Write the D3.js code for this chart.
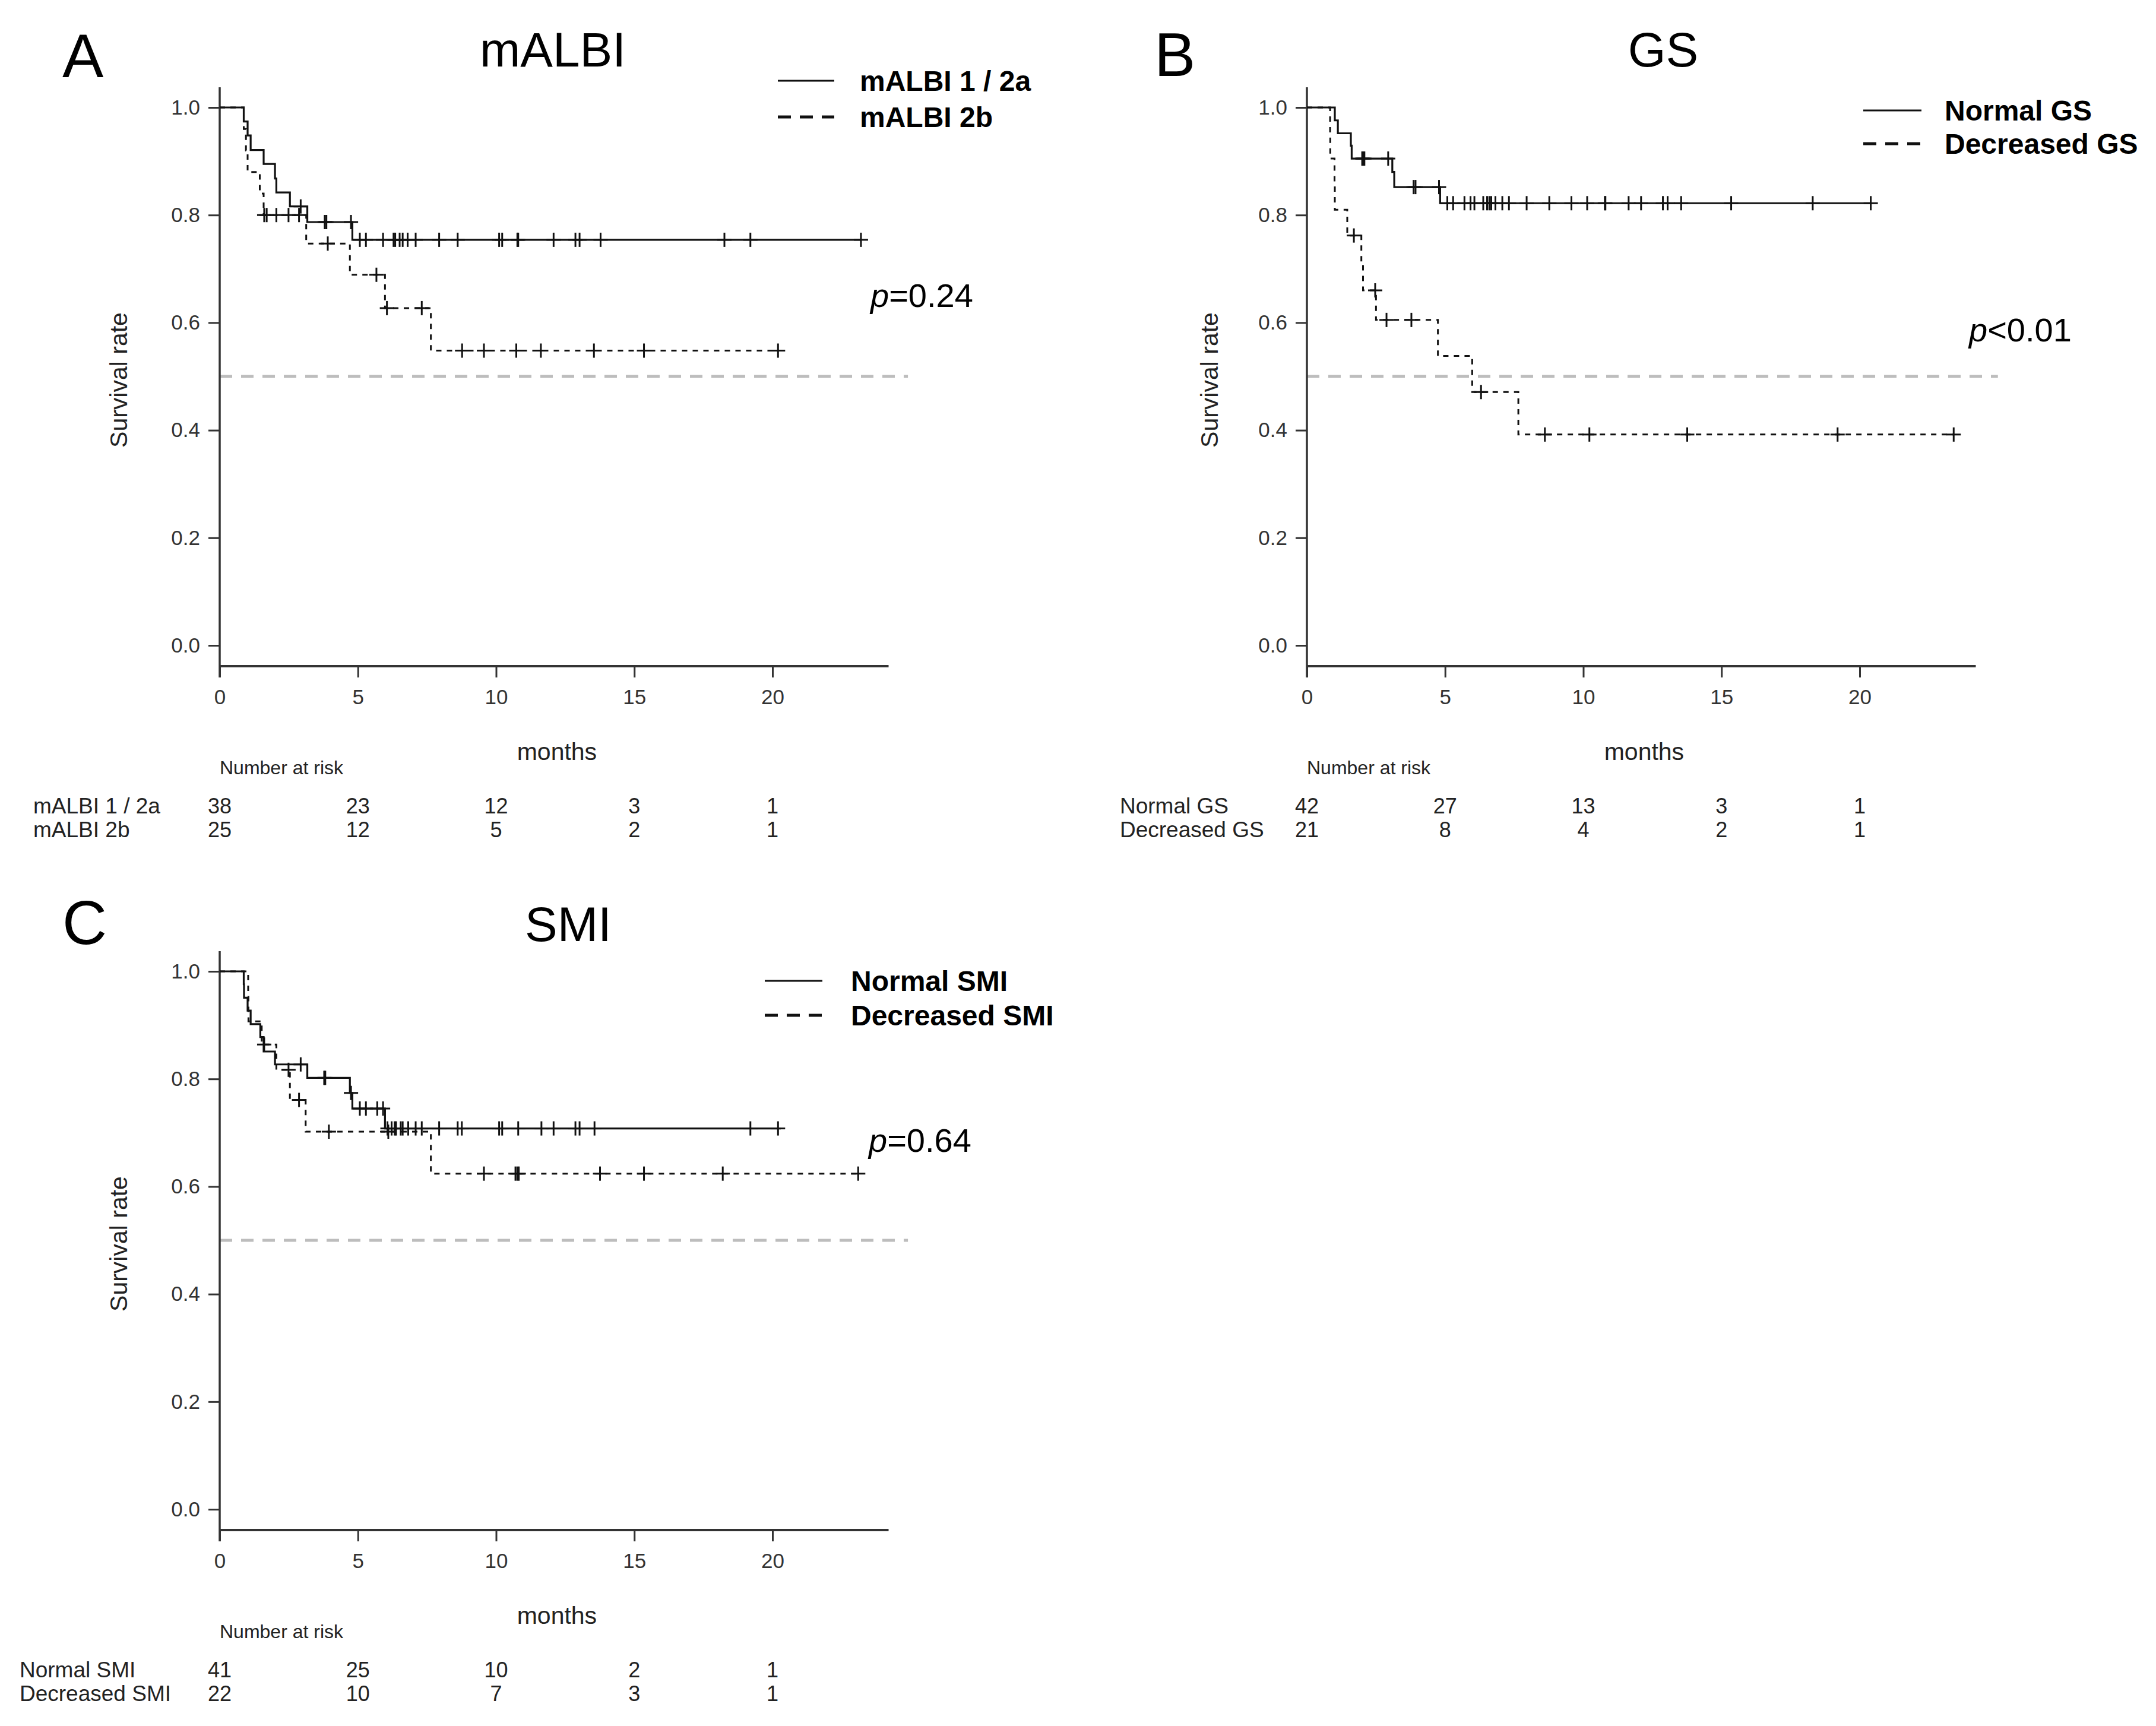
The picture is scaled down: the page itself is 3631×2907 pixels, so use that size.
<!DOCTYPE html>
<html><head><meta charset="utf-8">
<script src="https://cdn.jsdelivr.net/npm/d3@7"></script>
<style>body{margin:0;background:#fff}</style>
</head><body>
<svg id="chart" width="3631" height="2907"></svg>
<script>
// ---------- shared ticks ----------
const xTicks = [0, 5, 10, 15, 20];
const yTicks = [0.0, 0.2, 0.4, 0.6, 0.8, 1.0];
const riskTimes = [0, 5, 10, 15, 20];

// ---------- Panel A : mALBI ----------
const albiA_times = [0, 0.87, 1.01, 1.12, 1.59, 2.00, 2.05, 2.54, 3.17, 4.80];
const albiA_surv  = [1, 0.974, 0.948, 0.921, 0.895, 0.868, 0.842, 0.816, 0.787, 0.754];
const albiA_end   = 23.2;
const albiA_cens  = [2.93, 3.80, 3.86, 4.75, 5.07, 5.29, 5.91, 6.29, 6.35, 6.51, 6.62, 6.80, 7.09, 7.94, 8.61,
                     10.11, 10.22, 10.77, 10.80, 12.08, 12.87, 13.02, 13.78, 18.26, 19.2, 23.2];
const albiB_times = [0, 0.87, 0.95, 1.01, 1.45, 1.59, 3.13, 4.71, 5.98, 7.64];
const albiB_surv  = [1, 0.96, 0.92, 0.88, 0.84, 0.80, 0.747, 0.689, 0.627, 0.548];
const albiB_end   = 20.2;
const albiB_cens  = [1.61, 1.70, 2.05, 2.49, 2.87, 3.91, 5.67, 6.05, 7.31, 8.77, 9.56, 10.73, 11.62, 13.54, 15.35, 20.2];
const albiRiskA = [38, 23, 12, 3, 1];
const albiRiskB = [25, 12, 5, 2, 1];

// ---------- Panel B : GS ----------
const gsN_times = [0, 1.01, 1.12, 1.59, 1.62, 3.09, 3.16, 4.82];
const gsN_surv  = [1, 0.976, 0.952, 0.929, 0.905, 0.880, 0.852, 0.822];
const gsN_end   = 20.4;
const gsN_cens  = [2.00, 2.04, 2.08, 2.94, 3.86, 3.93, 4.78, 5.08, 5.29, 5.70, 5.92, 6.06, 6.38, 6.52, 6.60, 6.67, 6.82,
                   7.07, 7.31, 7.95, 8.77, 9.57, 10.14, 10.78, 10.80, 11.64, 12.09, 12.88, 13.05, 13.54, 15.35, 18.3, 20.4];
const gsD_times = [0, 0.84, 0.845, 1.00, 1.01, 1.46, 1.97, 2.03, 2.50, 4.74, 5.98, 7.65];
const gsD_surv  = [1, 0.952, 0.905, 0.857, 0.810, 0.762, 0.711, 0.660, 0.605, 0.538, 0.471, 0.392];
const gsD_end   = 23.4;
const gsD_cens  = [1.70, 2.47, 2.88, 3.78, 6.30, 8.61, 10.22, 13.76, 19.2, 23.4];
const gsRiskN = [42, 27, 13, 3, 1];
const gsRiskD = [21, 8, 4, 2, 1];

// ---------- Panel C : SMI ----------
const smiN_times = [0, 0.87, 0.88, 1.01, 1.12, 1.47, 1.59, 2.00, 3.17, 4.71, 4.80, 5.98];
const smiN_surv  = [1, 0.976, 0.951, 0.927, 0.902, 0.878, 0.851, 0.827, 0.802, 0.774, 0.745, 0.708];
const smiN_end   = 20.3;
const smiN_cens  = [2.93, 3.78, 3.82, 4.75, 5.07, 5.29, 5.70, 5.91, 6.07, 6.22, 6.33, 6.38, 6.55, 6.62, 6.82, 7.09,
                    7.31, 7.94, 8.61, 8.76, 10.11, 10.22, 10.80, 11.64, 12.08, 12.87, 13.02, 13.56, 19.2, 20.2];
const smiD_times = [0, 1.03, 1.04, 1.52, 2.05, 2.54, 3.11, 7.64];
const smiD_surv  = [1, 0.955, 0.907, 0.864, 0.817, 0.761, 0.702, 0.624];
const smiD_end   = 23.1;
const smiD_cens  = [1.61, 2.49, 2.87, 3.95, 6.10, 9.56, 10.70, 10.77, 10.82, 13.76, 15.35, 18.2, 23.1];
const smiRiskN = [41, 25, 10, 2, 1];
const smiRiskD = [22, 10, 7, 3, 1];

// ---------- labels ----------
const panelLetters = ["A", "B", "C"];
const panelTitles  = ["mALBI", "GS", "SMI"];
const groupLabels  = [["mALBI 1 / 2a", "mALBI 2b"], ["Normal GS", "Decreased GS"], ["Normal SMI", "Decreased SMI"]];
const riskLabels   = [["mALBI 1 / 2a", "mALBI 2b"], ["Normal GS", "Decreased GS"], ["Normal SMI", "Decreased SMI"]];
const pSign   = ["=", "<", "="];
const pValues = ["0.24", "0.01", "0.64"];

// ---------- assemble panels ----------
const panelData = [
  { solid: {t: albiA_times, s: albiA_surv, end: albiA_end, c: albiA_cens},
    dash:  {t: albiB_times, s: albiB_surv, end: albiB_end, c: albiB_cens},
    risk: [albiRiskA, albiRiskB] },
  { solid: {t: gsN_times, s: gsN_surv, end: gsN_end, c: gsN_cens},
    dash:  {t: gsD_times, s: gsD_surv, end: gsD_end, c: gsD_cens},
    risk: [gsRiskN, gsRiskD] },
  { solid: {t: smiN_times, s: smiN_surv, end: smiN_end, c: smiN_cens},
    dash:  {t: smiD_times, s: smiD_surv, end: smiD_end, c: smiD_cens},
    risk: [smiRiskN, smiRiskD] }
];

// layout (pixels) — styling only
const layout = [
  {x0: 370,  y1: 181,  y0: 1087, axisY: 1122, letterX: 105,  letterY: 130,  titleX: 931,  titleY: 112,
   legLine: [1310, 1405], legText: 1448, legY: [136, 197], pX: 1466, pY: 517, riskLabX: 56,  ylabX: 203, refEnd: 24.9},
  {x0: 2201, y1: 181,  y0: 1087, axisY: 1122, letterX: 1944, letterY: 128,  titleX: 2801, titleY: 112,
   legLine: [3138, 3236], legText: 3275, legY: [186, 242], pX: 3316, pY: 575, riskLabX: 1886, ylabX: 2040, refEnd: 25.0},
  {x0: 370,  y1: 1636, y0: 2542, axisY: 2577, letterX: 105,  letterY: 1590, titleX: 957,  titleY: 1585,
   legLine: [1288, 1385], legText: 1433, legY: [1652, 1710], pX: 1463, pY: 1940, riskLabX: 33,  ylabX: 203, refEnd: 24.9}
];

const FONT = "'Liberation Sans', Arial, Helvetica, sans-serif";
const svg = d3.select("#chart");
svg.append("rect").attr("width", 3631).attr("height", 2907).attr("fill", "#fff");

function survAt(series, t) {
  let v = series.s[0];
  for (let i = 0; i < series.t.length; i++) { if (series.t[i] <= t) v = series.s[i]; }
  return v;
}

panelData.forEach((pd, i) => {
  const L = layout[i];
  const x = d3.scaleLinear().domain([0, 20]).range([L.x0, L.x0 + 20 * 46.55]);
  const y = d3.scaleLinear().domain([0, 1]).range([L.y0, L.y1]);
  const g = svg.append("g");

  // letter & title
  g.append("text").attr("x", L.letterX).attr("y", L.letterY).text(panelLetters[i])
    .attr("font-family", FONT).attr("font-size", 104).attr("fill", "#000");
  g.append("text").attr("x", L.titleX).attr("y", L.titleY).text(panelTitles[i])
    .attr("text-anchor", "middle").attr("font-family", FONT).attr("font-size", 82).attr("fill", "#000");

  // reference 0.5 line
  g.append("line").attr("x1", x(0)).attr("x2", x(L.refEnd)).attr("y1", y(0.5)).attr("y2", y(0.5))
    .attr("stroke", "#bdbdbd").attr("stroke-width", 5).attr("stroke-dasharray", "21,15");

  // axes
  const yAxis = d3.axisLeft(y).tickValues(yTicks).tickFormat(d3.format(".1f")).tickSize(19).tickPadding(14);
  const ya = g.append("g").attr("transform", `translate(${L.x0},0)`).call(yAxis);
  const xAxis = d3.axisBottom(x).tickValues(xTicks).tickSize(19).tickPadding(20);
  const xa = g.append("g").attr("transform", `translate(0,${L.axisY})`).call(xAxis);
  [ya, xa].forEach(a => {
    a.select(".domain").remove();
    a.selectAll(".tick line").attr("stroke", "#333").attr("stroke-width", 3);
    a.selectAll(".tick text").attr("font-family", FONT).attr("font-size", 35).attr("fill", "#333");
  });
  g.append("line").attr("x1", L.x0).attr("x2", L.x0).attr("y1", L.y1 - 34).attr("y2", L.axisY + 19)
    .attr("stroke", "#333").attr("stroke-width", 3.5);
  g.append("line").attr("x1", L.x0).attr("x2", x(24.2)).attr("y1", L.axisY).attr("y2", L.axisY)
    .attr("stroke", "#333").attr("stroke-width", 4);

  // axis titles
  g.append("text").attr("transform", `translate(${L.ylabX},${(L.y0 + L.y1) / 2 + 6}) rotate(-90)`)
    .attr("text-anchor", "middle").attr("dominant-baseline", "middle").text("Survival  rate")
    .attr("font-family", FONT).attr("font-size", 41).attr("fill", "#222");
  g.append("text").attr("x", x(12.2)).attr("y", L.axisY + 158).attr("text-anchor", "middle").text("months")
    .attr("font-family", FONT).attr("font-size", 41).attr("fill", "#222");

  // curves
  const line = d3.line().x(d => x(d[0])).y(d => y(d[1])).curve(d3.curveStepAfter);
  [["solid", null], ["dash", "9,9"]].forEach(([key, dash]) => {
    const s = pd[key];
    const pts = s.t.map((t, k) => [t, s.s[k]]);
    pts.push([s.end, s.s[s.s.length - 1]]);
    g.append("path").attr("d", line(pts)).attr("fill", "none").attr("stroke", "#111")
      .attr("stroke-width", key === "solid" ? 3.2 : 3).attr("stroke-dasharray", dash);
    // censor marks
    const cg = g.append("g");
    s.c.forEach(ct => {
      const cx = x(ct), cy = y(survAt(s, ct));
      cg.append("line").attr("x1", cx).attr("x2", cx).attr("y1", cy - 12).attr("y2", cy + 12)
        .attr("stroke", "#111").attr("stroke-width", 3);
      cg.append("line").attr("x1", cx - 12).attr("x2", cx + 12).attr("y1", cy).attr("y2", cy)
        .attr("stroke", "#111").attr("stroke-width", 3);
    });
  });

  // legend
  [0, 1].forEach(k => {
    g.append("line").attr("x1", L.legLine[0]).attr("x2", L.legLine[1]).attr("y1", L.legY[k]).attr("y2", L.legY[k])
      .attr("stroke", "#111").attr("stroke-width", k === 0 ? 3 : 5).attr("stroke-dasharray", k === 0 ? null : "22,15");
    g.append("text").attr("x", L.legText).attr("y", L.legY[k]).attr("dominant-baseline", "central")
      .text(groupLabels[i][k]).attr("font-family", FONT).attr("font-weight", "bold")
      .attr("font-size", 48).attr("fill", "#000");
  });

  // p-value
  const pt = g.append("text").attr("x", L.pX).attr("y", L.pY).attr("font-family", FONT)
    .attr("font-size", 56).attr("fill", "#000");
  pt.append("tspan").attr("font-style", "italic").text("p");
  pt.append("tspan").text(pSign[i] + pValues[i]);

  // number at risk
  g.append("text").attr("x", L.x0).attr("y", L.axisY + 182).text("Number at risk")
    .attr("font-family", FONT).attr("font-size", 32).attr("fill", "#222");
  [0, 1].forEach(k => {
    const ry = L.axisY + (k === 0 ? 248 : 288);
    g.append("text").attr("x", L.riskLabX).attr("y", ry).text(riskLabels[i][k])
      .attr("font-family", FONT).attr("font-size", 37).attr("fill", "#222");
    g.selectAll(null).data(pd.risk[k]).enter().append("text")
      .attr("x", (d, j) => x(riskTimes[j])).attr("y", ry).attr("text-anchor", "middle")
      .text(d => d).attr("font-family", FONT).attr("font-size", 36).attr("fill", "#222");
  });
});
</script>
</body></html>
